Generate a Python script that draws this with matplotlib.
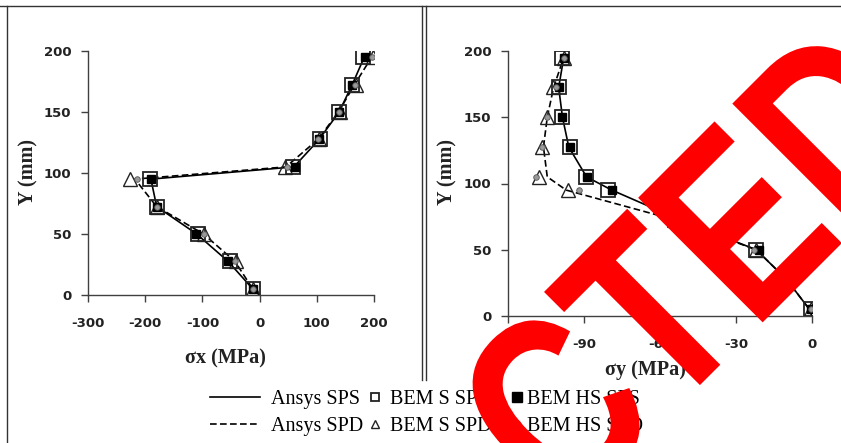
import matplotlib
matplotlib.use('Agg')
import matplotlib.pyplot as plt
from matplotlib.lines import Line2D
from matplotlib.textpath import TextPath
from matplotlib.patches import PathPatch
from matplotlib.font_manager import FontProperties
from matplotlib.transforms import Affine2D

plt.rcParams['axes.unicode_minus'] = False

# depth of the sampling points (mm)
y_bem = [5, 27.5, 50, 72.5, 95, 105, 127.5, 150, 172.5, 195]
y_ansys = [0, 5, 27.5, 50, 72.5, 95, 105, 127.5, 150, 172.5, 195]

# sigma x (MPa), left panel
sx_ansys_sps = [0, -12, -55, -110, -180, -190, 60, 104, 139, 162, 183]
sx_ansys_spd = [0, -12, -43, -98, -180, -218, 46, 102, 138, 166, 196]
sx_bem_s_sps = [-11, -52, -107, -180, -191, 59, 106, 139, 161, 180]
sx_bem_s_spd = [-11, -41, -97, -180, -226, 44, 104, 140, 168, 198]
sx_bem_hs_sps = [-12, -55, -111, -180, -190, 62, 104, 139, 162, 184]
sx_bem_hs_spd = [-12, -43, -98, -179, -215, 48, 102, 138, 167, 196]

# sigma y (MPa), right panel
sy_ansys_sps = [0, -1, -10, -22, -52, -79, -89, -96, -98.5, -100, -98]
sy_ansys_spd = [0, -1, -10, -22, -54, -97, -104.5, -106, -104.5, -102, -98]
sy_bem_s_sps = [-0.5, -10, -22, -54, -80.5, -89.3, -95.6, -98.5, -99.8, -98.5]
sy_bem_s_spd = [-0.5, -10, -22, -54, -96.5, -107.7, -106.6, -104.8, -102.4, -98]
sy_bem_hs_sps = [-0.5, -10, -21, -52, -78.8, -88.8, -95.6, -98.5, -100, -98]
sy_bem_hs_spd = [-0.5, -10, -23, -54, -92, -109, -106.6, -104.8, -101, -98]

labels = ['Ansys SPS', 'Ansys SPD', 'BEM S SPS', 'BEM S SPD', 'BEM HS SPS', 'BEM HS SPD']

W, H = 841, 443
fig = plt.figure(figsize=(W / 100, H / 100), dpi=100)

def fx(px):
    return px / W

def fy(py):
    return 1 - py / H

ax1 = fig.add_axes([fx(88), fy(295), fx(374) - fx(88), fy(51) - fy(295)])
ax2 = fig.add_axes([fx(508), fy(316), fx(812) - fx(508), fy(51) - fy(316)])


def draw(ax, a_sps, a_spd, s_sps, s_spd, hs_sps, hs_spd):
    h = []
    h += ax.plot(a_sps, y_ansys, '-', color='k', lw=1.2)
    h += ax.plot(a_spd, y_ansys, '--', color='k', lw=1.2, dashes=(4, 2))
    h += ax.plot(s_sps, y_bem, 's', ms=9.5, mfc='none', mec='#222222', mew=1.3)
    h += ax.plot(s_spd, y_bem, '^', ms=10, mfc='none', mec='#222222', mew=1.0)
    h += ax.plot(hs_sps, y_bem, 's', ms=5.5, color='k')
    h += ax.plot(hs_spd, y_bem, 'o', ms=4, mfc='#999999', mec='#555555', mew=0.6)
    for s in ['top', 'right']:
        ax.spines[s].set_visible(False)
    for s in ['left', 'bottom']:
        ax.spines[s].set_color('#404040')
        ax.spines[s].set_linewidth(1)
    ax.tick_params(direction='out', length=5, width=1, color='#404040',
                   labelsize=9.5, labelcolor='#222222')
    ax.tick_params(axis='x', pad=11)
    ax.tick_params(axis='y', pad=7)
    return h


h1 = draw(ax1, sx_ansys_sps, sx_ansys_spd, sx_bem_s_sps, sx_bem_s_spd,
          sx_bem_hs_sps, sx_bem_hs_spd)
ax1.set_xlim(-300, 200)
ax1.set_ylim(0, 200)
ax1.set_xticks(range(-300, 201, 100))
ax1.set_yticks(range(0, 201, 50))

h2 = draw(ax2, sy_ansys_sps, sy_ansys_spd, sy_bem_s_sps, sy_bem_s_spd,
          sy_bem_hs_sps, sy_bem_hs_spd)
ax2.set_xlim(-120, 0)
ax2.set_ylim(0, 200)
ax2.set_xticks(range(-120, 1, 30))
ax2.set_yticks(range(0, 201, 50))

for ax in [ax1, ax2]:
    for t in ax.get_xticklabels() + ax.get_yticklabels():
        t.set_fontweight('bold')

lab_font = dict(family='Liberation Serif', fontweight='bold', fontsize=14.5, color='#222222')
fig.text(fx(225), fy(358), '\u03c3x (MPa)', ha='center', va='center', **lab_font)
fig.text(fx(645), fy(370), '\u03c3y (MPa)', ha='center', va='center', **lab_font)
fig.text(fx(28), fy(172), 'Y (mm)', rotation=90, ha='center', va='center', **lab_font)
fig.text(fx(447), fy(172), 'Y (mm)', rotation=90, ha='center', va='center', **lab_font)

# panel frames
border = dict(transform=fig.transFigure, color='#333333', lw=1)
fig.add_artist(Line2D([0, 1], [fy(6), fy(6)], **border))
fig.add_artist(Line2D([fx(7), fx(7)], [0, fy(6)], **border))
fig.add_artist(Line2D([fx(422), fx(422)], [fy(380), fy(6)], **border))
fig.add_artist(Line2D([fx(426), fx(426)], [fy(380), fy(6)], **border))

# legend, split in three columns
leg_font = dict(family='Liberation Serif', size=14.5)
top = fy(390)
fig.legend(h1[0:2], labels[0:2], loc='upper left', bbox_to_anchor=(fx(210), top),
           frameon=False, borderpad=0, borderaxespad=0, prop=leg_font,
           handlelength=2.5, handletextpad=0.55, labelspacing=0.4)
fig.legend(h1[2:4], labels[2:4], loc='upper left', bbox_to_anchor=(fx(369), top),
           frameon=False, borderpad=0, borderaxespad=0, prop=leg_font,
           handlelength=0.6, handletextpad=0.45, labelspacing=0.4, markerscale=0.6)
fig.legend(h1[4:6], labels[4:6], loc='upper left', bbox_to_anchor=(fx(512), top),
           frameon=False, borderpad=0, borderaxespad=0, prop=leg_font,
           handlelength=0.5, handletextpad=0.25, labelspacing=0.4, markerscale=1.3)

# red stamp across the figure (narrowed bold sans, rotated 45 deg)
stamp = TextPath((0, 0), 'CTED', size=256,
                 prop=FontProperties(family='Liberation Sans', weight='bold'))
tr = (Affine2D().scale(0.78, 1).rotate_deg(45).translate(565.0, H - 520.0)
      .scale(1 / W, 1 / H) + fig.transFigure)
fig.add_artist(PathPatch(stamp, transform=tr, facecolor='#ff0000',
                         edgecolor='none', zorder=10))

fig.savefig('out.png', dpi=100, facecolor='white')
